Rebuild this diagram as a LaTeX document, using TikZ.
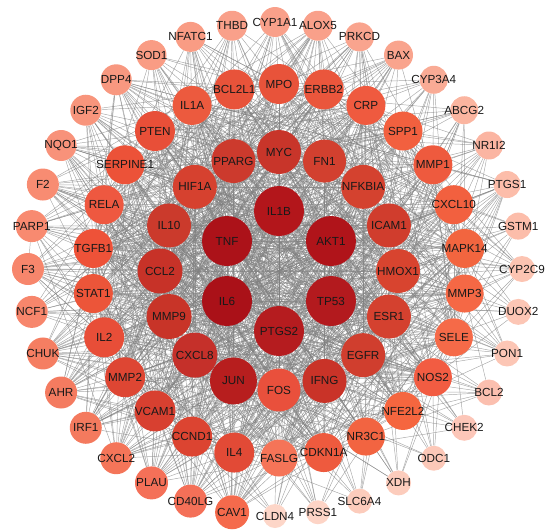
\documentclass[tikz,border=0pt]{standalone}
\usepackage{fontspec}
\setmainfont{Liberation Sans}
\pgfdeclarelayer{bg}
\pgfdeclarelayer{fg}
\pgfsetlayers{bg,main,fg}
\begin{document}
\begin{tikzpicture}[x=0.03cm,y=-0.03cm,
  gene/.style={circle,draw=none,inner sep=0pt},
  genetext/.style={inner sep=0pt,text=black!90,font=\fontsize{10}{12}\selectfont},
  edge/.style={draw=black!50,line width=0.4pt,opacity=0.68}]
\useasboundingbox (0,0) rectangle (545,529);
\pgfmathsetseed{2024}
\def\ringA{IL1B/B3161B/25,AKT1/B0141A/25,TP53/B31A1E/25,PTGS2/B51C1F/25,IL6/AA1118/25,TNF/AC1219/25}
\def\ringB{MYC/C8352A/22,FN1/D2402F/21.5,NFKBIA/D4422F/22,ICAM1/D03D2D/22,HMOX1/D8442F/22,ESR1/D4412F/22,EGFR/D03E2E/22,IFNG/C93328/22,FOS/E9503C/21.5,JUN/B71E1E/23.5,CXCL8/C5302A/22.5,MMP9/C83428/22.5,CCL2/C73228/22.5,IL10/CB3A2C/22,HIF1A/D6412F/22,PPARG/CC3A2D/22}
\def\ringC{MPO/E8533A/20,ERBB2/EA563C/20,CRP/EF5A3F/19.5,SPP1/F2603F/19.5,MMP1/EE5A3E/19.5,CXCL10/F2603F/19.5,MAPK14/F2653F/19.5,MMP3/F56845/19,SELE/F56A48/19,NOS2/F25C42/19,NFE2L2/F5663F/19,NR3C1/F26441/19,CDKN1A/EE5A3E/19.5,FASLG/F57458/18.5,IL4/E24A36/20,CCND1/DC4431/20,VCAM1/D84030/20.5,MMP2/DE4633/20,IL2/E84E38/20,STAT1/EC5539/19.5,TGFB1/EE5238/19.5,RELA/EE5840/19.5,SERPINE1/EC5238/19.5,PTEN/E84F38/20,IL1A/EC5A3E/19.5,BCL2L1/E8533A/20}
\def\ringD{CYP1A1/F9A08A/15,ALOX5/F9A08A/15,PRKCD/F9A48E/14.5,BAX/F9A48D/14.5,CYP3A4/F9AB95/14,ABCG2/FBB5A0/14,NR1I2/FBB5A2/14,PTGS1/FCBDAA/13.5,GSTM1/FCBDAA/13.5,CYP2C9/FCC4B2/13,DUOX2/FCC6B5/13,PON1/FCC6B5/13,BCL2/FBBFAF/13,CHEK2/FCC6B8/13,ODC1/FCC8B8/12.5,XDH/FCCCBC/12.5,SLC6A4/FCCCBC/12.5,PRSS1/FDD4C6/12,CLDN4/FDD6C8/12,CAV1/F56A4C/17,CD40LG/F47058/16.5,PLAU/F47058/16.5,CXCL2/F47559/16,IRF1/F47A5E/16,AHR/F47B60/16,CHUK/F57E62/16,NCF1/F7866C/16,F3/F7866C/16,PARP1/F88A70/16,F2/F88C72/16,NQO1/F8927A/15.5,IGF2/F8957C/15.5,DPP4/F89880/15.5,SOD1/F99C84/15,NFATC1/F99C84/15,THBD/F9A08A/15}
\newcommand\placering[5]{%
  \foreach \n/\c/\r [count=\k from 0] in #1 {
    \pgfmathsetmacro\xx{#2+#4*cos(90-\k*#5)}
    \pgfmathsetmacro\yy{#3-#4*sin(90-\k*#5)}
    \pgfmathsetmacro\dd{\r*0.06*28.4527}
    \definecolor{nodefill}{HTML}{\c}
    \node[gene,fill=nodefill,minimum size=\dd pt] (\n) at (\xx,\yy) {};
    \begin{pgfonlayer}{fg}
      \node[genetext] (t\n) at (\n.center) {\n};
    \end{pgfonlayer}
  }}
\newcommand\linkrings[4]{%
  \foreach \a/\ca/\ra [count=\i] in #1 {
    \foreach \b/\cb/\rb [count=\j] in #2 {
      \ifnum#4=1 \ifnum\j>\i \def\ok{1}\else\def\ok{0}\fi\else\def\ok{1}\fi
      \ifnum\ok=1
        \pgfmathsetmacro\pp{#3*((\ra-10)/15)^0.8*((\rb-10)/15)^0.8}
        \pgfmathsetmacro\rr{rnd}
        \ifdim\rr pt<\pp pt \draw[edge] (\a) -- (\b);\fi
      \fi
    }
  }}
\placering{\ringA}{279}{271}{60}{60}
\placering{\ringB}{279}{271}{119}{22.5}
\placering{\ringC}{279}{271}{187}{13.846}
\placering{\ringD}{275}{269}{247}{10}
\begin{pgfonlayer}{bg}
\linkrings{\ringA}{\ringA}{1}{1}
\linkrings{\ringA}{\ringB}{1}{0}
\linkrings{\ringA}{\ringC}{1}{0}
\linkrings{\ringA}{\ringD}{1}{0}
\linkrings{\ringB}{\ringB}{1}{1}
\linkrings{\ringB}{\ringC}{1}{0}
\linkrings{\ringB}{\ringD}{1.15}{0}
\linkrings{\ringC}{\ringC}{1}{1}
\linkrings{\ringC}{\ringD}{1.15}{0}
\linkrings{\ringD}{\ringD}{0.12}{1}
\end{pgfonlayer}
\end{tikzpicture}
\end{document}
